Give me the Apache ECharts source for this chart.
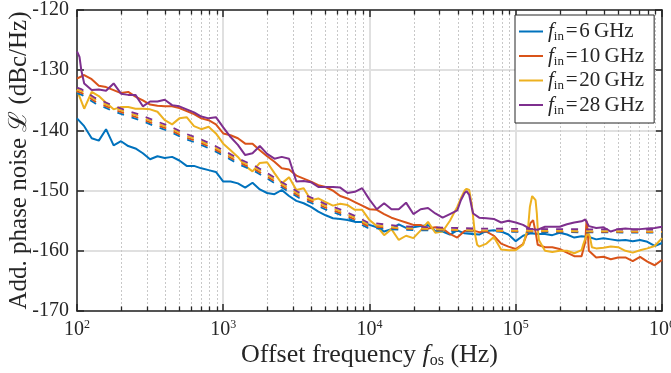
<!DOCTYPE html>
<html>
<head>
<meta charset="utf-8">
<script src="https://cdn.jsdelivr.net/npm/echarts@6/dist/echarts.min.js"></script>
<style>
  html, body { margin: 0; padding: 0; background: #fff; }
  #chart { width: 671px; height: 373px; }
</style>
</head>
<body>
<div id="chart"></div>
<script>
// Offset frequencies (Hz), 20 points per decade
const freq = [
  100, 112, 126, 141, 158, 178, 200, 224, 251, 282, 316, 355, 398, 447, 501, 562, 631, 708, 794, 891,
  1000, 1122, 1259, 1413, 1585, 1778, 1995, 2239, 2512, 2818, 3162, 3548, 3981, 4467, 5012, 5623, 6310, 7079, 7943, 8913,
  10000, 11220, 12590, 14130, 15850, 17780, 19950, 22390, 25120, 28180, 31620, 35480, 39810, 44670, 50120, 56230, 63100, 70790, 79430, 89130,
  100000, 112200, 125900, 141300, 158500, 177800, 199500, 223900, 251200, 281800, 316200, 354800, 398100, 446700, 501200, 562300, 631000, 707900, 794300, 891300,
  1000000
];

// Measured additive phase noise (dBc/Hz) for each input frequency
const noise6 = [
  -138.0, -139.3, -141.3, -141.7, -139.8, -142.5, -141.8, -142.6, -143.0, -143.8, -144.8, -144.3, -144.6, -144.4, -145.0, -145.9, -145.9, -146.3, -146.6, -146.9,
  -148.5, -148.5, -148.8, -149.5, -148.7, -149.8, -150.4, -150.6, -149.9, -150.9, -151.7, -152.1, -152.7, -153.5, -154.1, -154.6, -154.7, -154.9, -155.2, -155.2,
  -155.7, -156.1, -156.8, -156.4, -155.6, -156.2, -156.1, -155.9, -155.7, -156.7, -156.8, -157.3, -156.6, -157.1, -157.2, -157.3, -156.7, -156.6, -156.8, -157.3,
  -158.4, -157.5, -157.1, -157.2, -157.2, -157.4, -157.0, -157.3, -157.8, -157.6, -157.7, -158.1, -157.9, -158.1, -158.3, -158.2, -158.4, -158.2, -158.5, -159.2,
  -158.7
];
const noise10 = [
  -131.4, -130.8, -131.5, -132.6, -132.8, -133.3, -133.8, -133.6, -134.4, -135.0, -135.7, -135.9, -136.0, -136.0, -136.3, -136.8, -137.3, -138.0, -138.3, -139.0,
  -140.5, -140.8, -141.3, -142.2, -142.2, -143.3, -144.3, -145.2, -146.3, -146.5, -147.5, -148.0, -148.5, -149.1, -149.4, -150.0, -150.9, -151.3, -151.9, -152.5,
  -153.1, -153.2, -153.9, -154.5, -154.9, -155.3, -155.7, -155.7, -156.3, -156.1, -156.3, -157.2, -157.8, -156.7, -156.6, -156.9, -156.8, -157.5, -158.8, -159.3,
  -159.7, -158.9, -155.4, -159.0, -159.4, -159.4, -159.7, -160.3, -160.9, -160.9, -160.0, -161.1, -161.0, -161.4, -161.1, -161.1, -161.7, -161.0, -161.8, -162.4,
  -161.5
];
const noise20 = [
  -133.3, -136.4, -133.6, -134.3, -135.4, -136.5, -136.1, -136.1, -136.4, -136.4, -136.5, -136.9, -138.3, -139.0, -138.0, -137.8, -139.3, -139.8, -139.4, -140.5,
  -142.2, -143.3, -144.4, -145.9, -146.8, -145.4, -145.3, -147.1, -148.8, -147.8, -149.9, -149.6, -151.6, -151.3, -151.9, -152.5, -152.2, -152.4, -153.2, -153.2,
  -154.9, -155.9, -157.4, -156.4, -158.2, -157.5, -157.9, -156.6, -155.2, -157.0, -156.8, -155.0, -152.7, -150.0, -152.4, -159.3, -158.8, -157.7, -159.8, -159.9,
  -159.9, -159.0, -152.3, -156.3, -160.0, -160.2, -160.0, -160.0, -160.4, -159.9, -157.2, -159.6, -159.5, -159.3, -159.4, -160.0, -160.3, -159.9, -159.6, -159.2,
  -157.9
];
const noise28 = [
  -126.9, -132.2, -133.3, -133.2, -133.4, -132.2, -133.9, -134.1, -134.1, -136.0, -135.2, -135.2, -134.9, -135.8, -136.0, -136.5, -137.0, -137.7, -138.0, -137.8,
  -139.5, -141.1, -142.4, -144.1, -143.8, -142.6, -143.9, -144.7, -144.4, -144.7, -148.5, -148.4, -148.6, -149.4, -149.4, -149.4, -149.5, -150.4, -150.2, -149.6,
  -151.5, -153.1, -152.1, -153.1, -153.1, -152.0, -153.9, -153.1, -152.9, -153.8, -154.5, -153.9, -153.3, -150.4, -152.9, -154.5, -154.6, -154.7, -155.3, -155.0,
  -155.3, -155.7, -156.4, -156.5, -156.0, -156.0, -156.0, -155.6, -155.3, -155.1, -155.9, -156.2, -156.1, -156.8, -156.4, -156.3, -156.4, -156.4, -156.3, -156.2,
  -156.0
];

// Extra samples resolving the narrow spurs: [frequency, dBc/Hz]
const spurs10 = [[121000, -156.8], [131500, -154.9], [137200, -157.1], [299000, -158.5], [304700, -155.0], [310000, -156.5]];
const spurs20 = [
  [42620, -151.0], [46100, -149.7], [48030, -149.9], [52540, -157.1], [54460, -159.0],
  [121600, -156.0], [124900, -152.7], [129500, -150.9], [132900, -150.7], [136600, -151.6], [139400, -153.8], [143900, -158.2],
  [288900, -159.0], [304700, -157.4], [321000, -157.6], [331700, -159.4]
];
const spurs28 = [[104, -127.8], [107, -130.0], [42150, -151.6], [46100, -150.1], [48030, -150.7], [51150, -153.8], [299000, -154.8]];

// Fitted noise models (dashed)
const fitFreq = [100, 108, 133, 173, 213, 270, 341, 432, 533, 675, 854, 1055, 1300, 1647, 2062, 2519, 3292, 4040, 4957, 6278, 7946, 9752, 16000, 52000, 200000, 1000000];
const fit6  = [-133.8, -134.1, -135.5, -136.7, -137.5, -138.3, -139.3, -140.2, -141.3, -142.2, -143.3, -144.5, -145.7, -146.8, -148.2, -149.5, -151.2, -152.1, -153.1, -154.0, -155.1, -156.2, -156.5, -156.8, -156.9, -157.0];
const fit10 = [-133.5, -133.8, -135.2, -136.4, -137.2, -138.0, -139.0, -139.9, -141.0, -141.9, -143.0, -144.2, -145.4, -146.5, -147.9, -149.2, -150.9, -151.8, -152.8, -153.7, -154.8, -155.9, -156.3, -156.7, -156.8, -156.9];
const fit20 = [-133.2, -133.5, -134.9, -136.1, -136.9, -137.7, -138.7, -139.6, -140.7, -141.6, -142.7, -143.9, -145.1, -146.2, -147.6, -148.9, -150.6, -151.5, -152.5, -153.4, -154.5, -155.6, -156.2, -156.6, -156.7, -156.8];
const fit28 = [-132.9, -133.2, -134.6, -135.8, -136.6, -137.4, -138.4, -139.3, -140.4, -141.3, -142.4, -143.6, -144.8, -145.9, -147.3, -148.6, -150.3, -151.2, -152.2, -153.1, -154.2, -155.3, -155.9, -156.3, -156.4, -156.5];

// Input frequencies (GHz) and line colours
const inputGHz = ['6', '10', '20', '28'];
const colors = ['#0072BD', '#D95319', '#EDB120', '#7E2F8E'];

// Minor log-grid positions
const minorFreq = [
  200, 300, 400, 500, 600, 700, 800, 900,
  2000, 3000, 4000, 5000, 6000, 7000, 8000, 9000,
  20000, 30000, 40000, 50000, 60000, 70000, 80000, 90000,
  200000, 300000, 400000, 500000, 600000, 700000, 800000, 900000
];

const FONT = '"Liberation Serif", "DejaVu Serif", serif';
const INK = '#262626';

function pairs(xs, ys, extra) {
  const pts = xs.map((f, i) => [f, ys[i]]);
  if (extra) pts.push(...extra);
  pts.sort((a, b) => a[0] - b[0]);
  return pts;
}

const measured = [
  pairs(freq, noise6),
  pairs(freq, noise10, spurs10),
  pairs(freq, noise20, spurs20),
  pairs(freq, noise28, spurs28)
];
const fits = [fit6, fit10, fit20, fit28].map(v => pairs(fitFreq, v));

const series = [];

// dotted minor grid plus minor ticks on the bottom and top edges
series.push({
  type: 'custom',
  silent: true,
  z: 1,
  clip: false,
  data: minorFreq.map(f => [f, -170]),
  encode: { x: 0, y: 1 },
  renderItem: function (params, api) {
    const f = api.value(0);
    const b = api.coord([f, -170]);
    const t = api.coord([f, -120]);
    const x = Math.round(b[0]) + 0.5;
    return {
      type: 'group',
      children: [
        { type: 'line', shape: { x1: x, y1: t[1], x2: x, y2: b[1] },
          style: { stroke: '#c8c8c8', lineWidth: 1, lineDash: [2, 2] } },
        { type: 'line', shape: { x1: x, y1: b[1], x2: x, y2: b[1] - 4.5 },
          style: { stroke: INK, lineWidth: 1.3 } },
        { type: 'line', shape: { x1: x, y1: t[1], x2: x, y2: t[1] + 4.5 },
          style: { stroke: INK, lineWidth: 1.3 } }
      ]
    };
  }
});

measured.forEach((d, i) => {
  series.push({
    name: inputGHz[i],
    type: 'line',
    data: d,
    symbol: 'none',
    showSymbol: false,
    z: 3 + i,
    lineStyle: { color: colors[i], width: 2 },
    itemStyle: { color: colors[i] }
  });
});

fits.forEach((d, i) => {
  series.push({
    name: 'fit' + inputGHz[i],
    type: 'line',
    data: d,
    symbol: 'none',
    showSymbol: false,
    z: 8 + i,
    lineStyle: { color: colors[i], width: 1.8, type: [7, 8] },
    itemStyle: { color: colors[i] }
  });
});

const chart = echarts.init(document.getElementById('chart'), null, { renderer: 'canvas' });

chart.setOption({
  animation: false,
  backgroundColor: '#fff',
  grid: { left: 77, right: 9, top: 10, bottom: 62, containLabel: false, outerBoundsMode: 'none' },
  legend: {
    data: inputGHz,
    orient: 'vertical',
    left: 515,
    top: 15,
    padding: [6, 10, 6, 4],
    itemGap: 2,
    itemWidth: 24,
    itemHeight: 2,
    icon: 'rect',
    backgroundColor: '#fff',
    borderColor: INK,
    borderWidth: 1,
    borderRadius: 0,
    selectedMode: false,
    formatter: name => '{f|f}{s|in}{t|\u200A=\u200A' + name + '\u2009GHz}',
    textStyle: {
      fontFamily: FONT,
      color: INK,
      fontSize: 21,
      rich: {
        f: { fontFamily: FONT, fontStyle: 'italic', fontSize: 21, lineHeight: 24, color: INK },
        s: { fontFamily: FONT, fontSize: 13, lineHeight: 9, verticalAlign: 'bottom', color: INK },
        t: { fontFamily: FONT, fontSize: 21, lineHeight: 24, color: INK }
      }
    }
  },
  xAxis: [
    {
      type: 'log',
      logBase: 10,
      min: 100,
      max: 1000000,
      position: 'bottom',
      name: '{t|Offset frequency }{i|f}{s|os}{t| (Hz)}',
      nameLocation: 'middle',
      nameGap: 30,
      nameMoveOverlap: false,
      nameTextStyle: {
        fontFamily: FONT,
        color: INK,
        fontSize: 26,
        rich: {
          t: { fontFamily: FONT, fontSize: 26, lineHeight: 28, color: INK },
          i: { fontFamily: FONT, fontStyle: 'italic', fontSize: 26, lineHeight: 28, color: INK },
          s: { fontFamily: FONT, fontSize: 16, lineHeight: 10, verticalAlign: 'bottom', color: INK }
        }
      },
      axisLine: { show: true, onZero: false, lineStyle: { color: INK, width: 1.5 } },
      axisTick: { show: true, inside: true, length: 7, lineStyle: { color: INK, width: 1.5 } },
      axisLabel: {
        margin: 8,
        formatter: v => '{b|10}{p|' + Math.round(Math.log10(v)) + '}',
        rich: {
          b: { fontFamily: FONT, fontSize: 20, lineHeight: 22, color: INK },
          p: { fontFamily: FONT, fontSize: 12, lineHeight: 12, verticalAlign: 'top', color: INK }
        }
      },
      splitLine: { show: true, lineStyle: { color: '#e0e0e0', width: 2 } }
    },
    {
      type: 'log',
      logBase: 10,
      min: 100,
      max: 1000000,
      position: 'top',
      axisLine: { show: true, onZero: false, lineStyle: { color: INK, width: 1.5 } },
      axisTick: { show: true, inside: true, length: 7, lineStyle: { color: INK, width: 1.5 } },
      axisLabel: { show: false },
      splitLine: { show: false }
    }
  ],
  yAxis: [
    {
      type: 'value',
      min: -170,
      max: -120,
      interval: 10,
      position: 'left',
      name: 'Add. phase noise \u2112 (dBc/Hz)',
      nameLocation: 'middle',
      nameGap: 45,
      nameRotate: 90,
      nameMoveOverlap: false,
      nameTextStyle: { fontFamily: FONT, fontSize: 25, color: INK },
      axisLine: { show: true, onZero: false, lineStyle: { color: INK, width: 1.5 } },
      axisTick: { show: true, inside: true, length: 7, lineStyle: { color: INK, width: 1.5 } },
      axisLabel: { fontFamily: FONT, fontSize: 20, color: INK, margin: 8 },
      splitLine: { show: true, lineStyle: { color: '#e0e0e0', width: 2 } }
    },
    {
      type: 'value',
      min: -170,
      max: -120,
      interval: 10,
      position: 'right',
      axisLine: { show: true, onZero: false, lineStyle: { color: INK, width: 1.5 } },
      axisTick: { show: true, inside: true, length: 7, lineStyle: { color: INK, width: 1.5 } },
      axisLabel: { show: false },
      splitLine: { show: false }
    }
  ],
  series: series
});
</script>
</body>
</html>
